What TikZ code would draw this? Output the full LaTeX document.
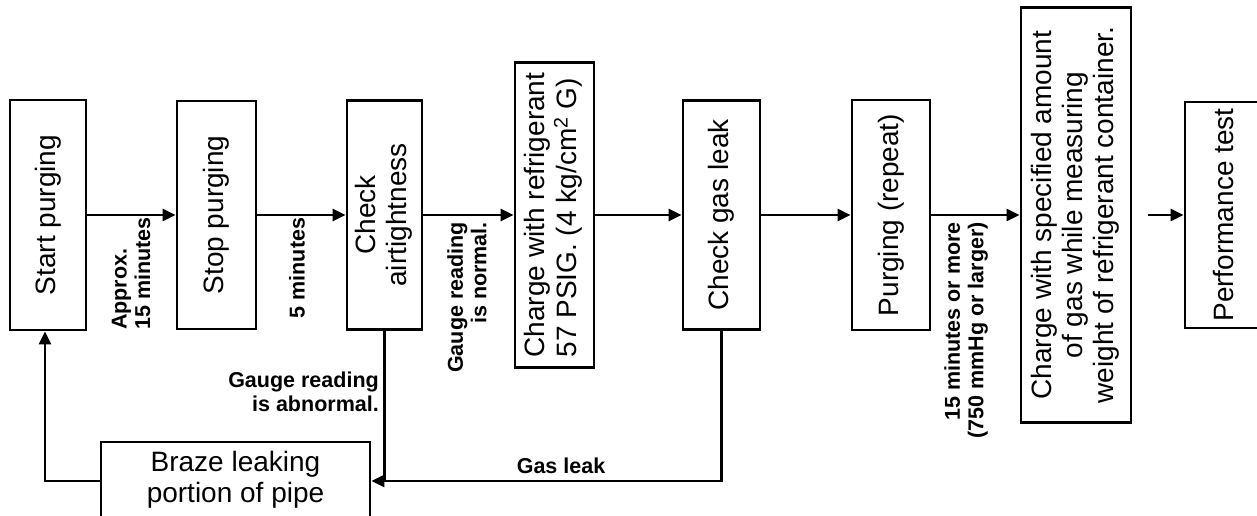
\documentclass[tikz,border=0pt]{standalone}
\usepackage{fontspec}
\setmainfont{Liberation Sans}
\usetikzlibrary{arrows.meta}
\begin{document}
\begin{tikzpicture}[x=1pt,y=-1pt,
  box/.style={draw, line width=2.8pt, inner sep=0pt, font=\fontsize{28}{31}\selectfont},
  lbl/.style={inner sep=0pt, font=\fontsize{21.5}{23.5}\selectfont\bfseries},
  arr/.style={line width=2.5pt, -{Triangle[length=13pt,width=12pt]}},
  plain/.style={line width=2.5pt}]
\useasboundingbox (0,0) rectangle (1257,516);
% main row
\node[box, minimum width=76, minimum height=230] (start) at (48,215) {\rotatebox{90}{Start purging}};
\node[box, minimum width=79, minimum height=228] (stop) at (216.5,215) {\rotatebox{90}{Stop purging}};
\node[box, minimum width=75, minimum height=229] (air) at (384.5,215) {\rotatebox{90}{\begin{tabular}{@{}c@{}}Check\\airtightness\end{tabular}}};
\node[box, minimum width=79, minimum height=305] (chg) at (554.5,215) {\rotatebox{90}{\begin{tabular}{@{}l@{}}Charge with refrigerant\\57 PSIG. (4 kg/cm\textsuperscript{2} G)\end{tabular}}};
\node[box, minimum width=77, minimum height=229] (leak) at (721.5,215) {\rotatebox{90}{Check gas leak}};
\node[box, minimum width=78, minimum height=230] (purge) at (891,215) {\rotatebox{90}{Purging (repeat)}};
\node[box, minimum width=110, minimum height=415] (spec) at (1076,215) {\rotatebox{90}{\begin{tabular}{@{}c@{}}Charge with specified amount\\of gas while measuring\\weight of refrigerant container.\end{tabular}}};
\node[box, minimum width=76, minimum height=226] (perf) at (1223,215) {\rotatebox{90}{Performance test}};
\node[box, minimum width=269, minimum height=78] (braze) at (235.5,481) {\begin{tabular}{@{}c@{}}Braze leaking\\portion of pipe\end{tabular}};
\coordinate (pin) at (1148,215);
% connectors
\draw[arr] (start) -- (stop);
\draw[arr] (stop) -- (air);
\draw[arr] (air) -- (chg);
\draw[arr] (chg) -- (leak);
\draw[arr] (leak) -- (purge);
\draw[arr] (purge) -- (spec);
\draw[arr] (pin) -- (perf);
\draw[plain] (air.south) -- (air.south |- braze.east);
\draw[arr] (leak.south) |- (braze.east);
\draw[arr] (braze.west) -| ([xshift=-3pt]start.south);
% labels
\node[lbl, rotate=90, align=left, anchor=west] (l1) at (131,330) {Approx.\\15 minutes};
\node[lbl, rotate=90] (l2) at (297,268) {5 minutes};
\node[lbl, rotate=90, align=right, anchor=east] (l3) at (467,222) {Gauge reading\\is normal.};
\node[lbl, align=right, anchor=east] (l4) at (379,392) {Gauge reading\\is abnormal.};
\node[lbl] (l5) at (561,466) {Gas leak};
\node[lbl, rotate=90, align=right, anchor=east] (l6) at (966,222) {15 minutes or more\\(750 mmHg or larger)};
\end{tikzpicture}
\end{document}
